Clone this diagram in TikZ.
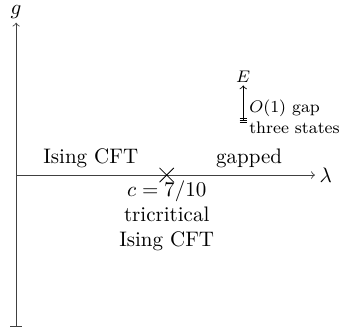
\documentclass[tikz,border=0pt]{standalone}
\usepackage{amsmath}
\usetikzlibrary{positioning}

\begin{document}
\begin{tikzpicture}[
  axis/.style={thin, draw=black!75},
  phase/.style={font=\normalsize, align=center},
  small/.style={font=\footnotesize, inner sep=1pt}
]
\useasboundingbox (-0.27,-2.58) rectangle (5.42,2.93);
% axes
\coordinate (gbot) at (0,-2.54);
\coordinate (gtop) at (0,2.55);
\coordinate (lstart) at (0,0);
\coordinate (lend) at (5.0,0);
\draw[axis, |->] (gbot) -- (gtop) node[above, inner sep=2pt] (glabel) {$g$};
\draw[axis, ->] (lstart) -- (lend) node[right, inner sep=2pt] (llabel) {$\lambda$};

% phases
\node[phase, above] (ising) at (1.25,0) {Ising CFT};
\node[phase, above] (gapped) at (3.9,0) {gapped};

% tricritical point
\coordinate (tcp) at (2.52,0);
\draw (tcp) ++(-0.12,-0.12) -- ++(0.24,0.24);
\draw (tcp) ++(-0.12,0.12) -- ++(0.24,-0.24);
\node[phase, below=0.05cm of tcp, inner sep=1pt] (tcft) {$c=7/10$\\tricritical\\Ising CFT};

% spectrum inset
\coordinate (ebot) at (3.80,0.92);
\coordinate (etop) at (3.80,1.5);
\draw[->] (ebot) -- (etop) node[above, small] (elabel) {$E$};
\foreach \dy in {-0.035,0,0.035}
  \draw ([xshift=-0.06cm, yshift=\dy cm]ebot) -- ([xshift=0.06cm, yshift=\dy cm]ebot);
\node[small, anchor=west] (gap) at (3.86,1.12) {$O(1)$ gap};
\node[small, anchor=west] (three) at (3.86,0.79) {three states};
\end{tikzpicture}
\end{document}
